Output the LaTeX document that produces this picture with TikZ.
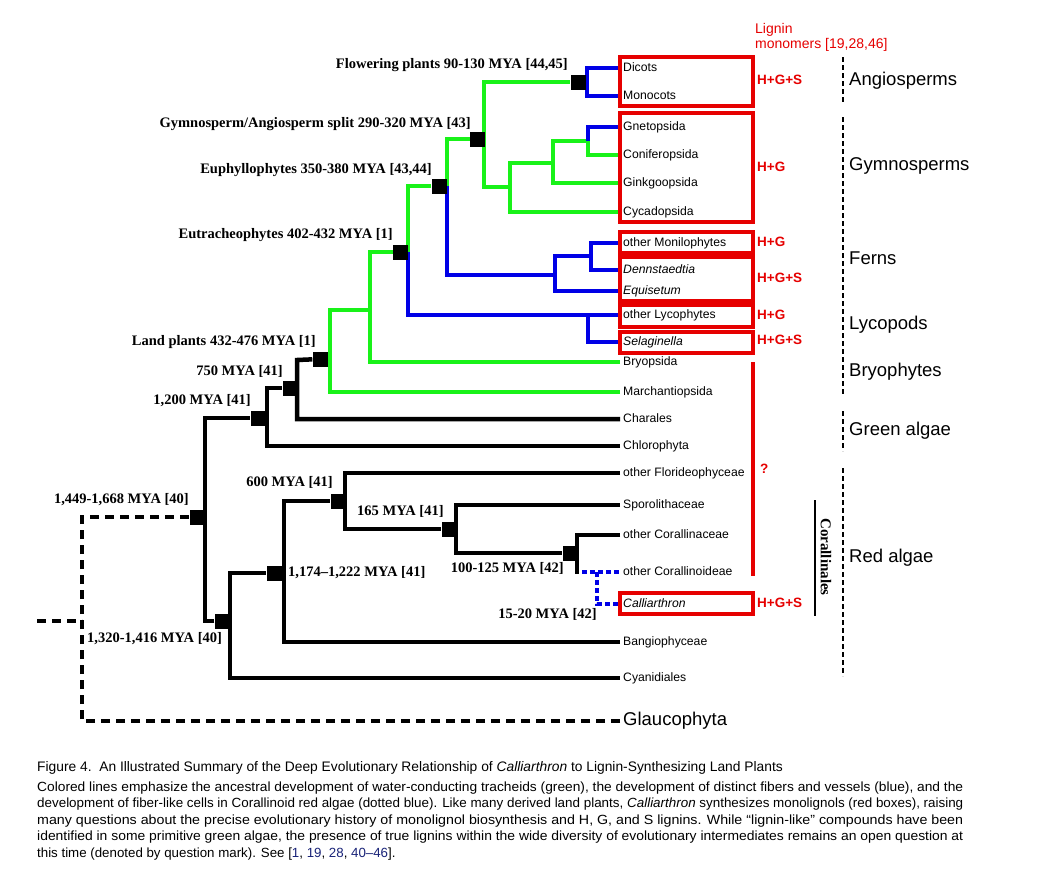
\documentclass[tikz,border=0pt]{standalone}
\usepackage{fontspec}
\usepackage{graphicx}
\setmainfont{Liberation Serif}
\newfontfamily\lsans[Ligatures=TeX]{Liberation Sans}
\usetikzlibrary{backgrounds}
\definecolor{lgreen}{RGB}{25,242,25}
\definecolor{lblue}{RGB}{0,0,230}
\definecolor{lred}{RGB}{230,0,0}
\definecolor{refblue}{RGB}{25,35,120}
\begin{document}
\begin{tikzpicture}[x=1pt,y=-1pt,
  tree/.style={line width=4.5pt},
  bk/.style={tree,black},
  gn/.style={tree,lgreen},
  bu/.style={tree,lblue},
  bdot/.style={line width=4pt,lblue,dash pattern=on 5pt off 3pt},
  bdash/.style={line width=4pt,black,dash pattern=on 9pt off 6pt},
  gdash/.style={line width=2.5pt,black,dash pattern=on 5pt off 3pt},
  sq/.style={fill=black,minimum size=15pt,inner sep=0pt},
  age/.style={font=\fontsize{14.5}{16}\selectfont\bfseries,inner sep=0pt,text height=10pt,text depth=3pt},
  leaf/.style={font=\lsans\fontsize{12.2}{14}\selectfont,anchor=west,inner xsep=3pt,inner ysep=0pt,text height=9pt,text depth=3pt},
  grp/.style={font=\lsans\fontsize{18.5}{20}\selectfont,anchor=west,inner sep=0pt,text height=13pt,text depth=4pt},
  rl/.style={font=\lsans\bfseries\fontsize{13.5}{15}\selectfont,text=lred,anchor=west,inner sep=0pt,text height=10pt,text depth=3pt},
  rbox/.style={draw=lred,line width=4pt},
  captxt/.style={font=\lsans\fontsize{13.3}{15}\selectfont,anchor=base west,inner sep=0pt}
]
\useasboundingbox (0,0) rectangle (1049,895);

% ---------- leaves ----------
\node[leaf] (dic)  at (620,68)  {Dicots};
\node[leaf] (mon)  at (620,96)  {Monocots};
\node[leaf] (gne)  at (620,127) {Gnetopsida};
\node[leaf] (con)  at (620,155) {Coniferopsida};
\node[leaf] (gin)  at (620,183) {Ginkgoopsida};
\node[leaf] (cyc)  at (620,212) {Cycadopsida};
\node[leaf] (oml)  at (620,243) {other Monilophytes};
\node[leaf] (den)  at (620,270) {\itshape Dennstaedtia};
\node[leaf] (equ)  at (620,291) {\itshape Equisetum};
\node[leaf] (oly)  at (620,315) {other Lycophytes};
\node[leaf] (sel)  at (620,342) {\itshape Selaginella};
\node[leaf] (bry)  at (620,362) {Bryopsida};
\node[leaf] (mar)  at (620,392) {Marchantiopsida};
\node[leaf] (cha)  at (620,419) {Charales};
\node[leaf] (chl)  at (620,446) {Chlorophyta};
\node[leaf] (flo)  at (620,473) {other Florideophyceae};
\node[leaf] (spo)  at (620,505) {Sporolithaceae};
\node[leaf] (ocr)  at (620,535) {other Corallinaceae};
\node[leaf] (oco)  at (620,572) {other Corallinoideae};
\node[leaf] (cal)  at (620,604) {\itshape Calliarthron};
\node[leaf] (ban)  at (620,642) {Bangiophyceae};
\node[leaf] (cya)  at (620,678) {Cyanidiales};
\node[grp,inner xsep=3pt] (gla) at (620,721) {Glaucophyta};

% ---------- internal nodes ----------
\node[sq] (A)    at (578,82)  {};
\node[sq] (G)    at (477,139) {};
\node[sq] (E)    at (439,186) {};
\node[sq] (U)    at (400,252) {};
\node[sq] (L)    at (320,359) {};
\node[sq] (N7)   at (290,388) {};
\node[sq] (N12)  at (258,418) {};
\node[sq] (N14)  at (197,517) {};
\node[sq] (N13)  at (222,621) {};
\node[sq] (N11)  at (274,573) {};
\node[sq] (N6)   at (338,501) {};
\node[sq] (N165) at (449,529) {};
\node[sq] (N100) at (570,553) {};
\coordinate (stub) at (37,621);

\begin{pgfonlayer}{background}
\fill[white] (0,0) rectangle (1049,895);
% green
\draw[gn] (cyc.west) -| (510,163) -| (553,141) -| (588,155) -- (con.west);
\draw[gn] (553,163) |- (gin.west);
\draw[gn] (510,187) -| (484,82) -- (A);
\draw[gn] (447,186) |- (484,139);
\draw[gn] (bry.west) -| (370,252) -| (408,186) -- (E);
\draw[gn] (mar.west) -| (330,310) -- (370,310);
% blue
\draw[bu] (dic.west) -| (587,82) |- (mon.west);
\draw[bu] (588,141) |- (gne.west);
\draw[bu] (447,186) |- (555,275);
\draw[bu] (equ.west) -| (555,256) -- (591,256);
\draw[bu] (oml.west) -| (591,270) -- (den.west);
\draw[bu] (408,252) |- (oly.west);
\draw[bu] (sel.west) -| (588,315);
% black
\draw[bk] (cha.west) -| (297,360) -- (L);
\draw[bk] (chl.west) -| (267,388) -- (N7);
\draw[bk] (N13) -| (205,418) -- (N12);
\draw[bk] (cya.west) -| (230,573) -- (N11);
\draw[bk] (ban.west) -| (284,501) -- (N6);
\draw[bk] (flo.west) -| (345,529) -- (N165);
\draw[bk] (spo.west) -| (456,553) -- (N100);
\draw[bk] (ocr.west) -| (577,574);
% dotted blue
\draw[bdot] (582,572) -- (oco.west);
\draw[bdot] (597,572) |- (cal.west);
% dashed black
\draw[bdash] (gla.west) -| (82,517) -- (N14);
\draw[bdash] (stub) -- (82,621);
\end{pgfonlayer}

% ---------- age labels ----------
\node[age,anchor=east] (t1)  at (568,65)  {Flowering plants 90-130 MYA [44,45]};
\node[age,anchor=east] (t2)  at (471,124) {Gymnosperm/Angiosperm split 290-320 MYA [43]};
\node[age,anchor=east] (t3)  at (432,170) {Euphyllophytes 350-380 MYA [43,44]};
\node[age,anchor=east] (t4)  at (393,235) {Eutracheophytes 402-432 MYA [1]};
\node[age,anchor=east] (t5)  at (316,342) {Land plants 432-476 MYA [1]};
\node[age,anchor=east] (t6)  at (283,372) {750 MYA [41]};
\node[age,anchor=east] (t7)  at (251,401) {1,200 MYA [41]};
\node[age,anchor=east] (t8)  at (189,500) {1,449-1,668 MYA [40]};
\node[age,anchor=east] (t9)  at (333,483) {600 MYA [41]};
\node[age,anchor=west] (t10) at (357,512) {165 MYA [41]};
\node[age,anchor=west] (t11) at (288,573) {1,174\textendash 1,222 MYA [41]};
\node[age,anchor=west] (t12) at (87,639)  {1,320-1,416 MYA [40]};
\node[age,anchor=east] (t13) at (564,569) {100-125 MYA [42]};
\node[age,anchor=east] (t14) at (597,615) {15-20 MYA [42]};

% ---------- red boxes ----------
\draw[rbox] (620,57) rectangle (753,106);
\draw[rbox] (620,113) rectangle (753,222);
\draw[rbox] (620,232) rectangle (753,253);
\draw[rbox] (620,257) rectangle (753,301);
\draw[rbox] (620,305) rectangle (753,327);
\draw[rbox] (620,332) rectangle (753,353);
\draw[rbox] (620,593) rectangle (753,614);
\draw[lred,line width=4pt] (753,362) -- (753,576);

\node[rl] (r1) at (757,81)  {H+G+S};
\node[rl] (r2) at (757,168) {H+G};
\node[rl] (r3) at (757,243) {H+G};
\node[rl] (r4) at (757,279) {H+G+S};
\node[rl] (r5) at (757,316) {H+G};
\node[rl] (r6) at (757,341) {H+G+S};
\node[rl] (r7) at (757,604) {H+G+S};
\node[rl] (rq) at (760,470) {?};

\node[font=\lsans\fontsize{14}{15}\selectfont,text=lred,anchor=west,inner sep=0pt] (lig1) at (755,30) {Lignin};
\node[font=\lsans\fontsize{14}{15}\selectfont,text=lred,anchor=west,inner sep=0pt] (lig2) at (755,45) {monomers [19,28,46]};

% ---------- groups ----------
\draw[gdash] (843,57) -- (843,103);
\draw[gdash] (843,117) -- (843,395);
\draw[gdash] (843,411) -- (843,451);
\draw[gdash] (843,468) -- (843,676);
\node[grp] (g1) at (849,81)  {Angiosperms};
\node[grp] (g2) at (849,166) {Gymnosperms};
\node[grp] (g3) at (849,260) {Ferns};
\node[grp] (g4) at (849,325) {Lycopods};
\node[grp] (g5) at (849,372) {Bryophytes};
\node[grp] (g6) at (849,431) {Green algae};
\node[grp] (g7) at (849,558) {Red algae};

\draw[black,line width=2pt] (815,500) -- (815,616);
\node[font=\fontsize{15}{16}\selectfont\bfseries,rotate=-90,inner sep=0pt] (cor) at (826,557) {Corallinales};

% ---------- caption ----------
\node[captxt,font=\lsans\fontsize{13.8}{15}\selectfont] (c0) at (37,771) {Figure 4.\ \ An Illustrated Summary of the Deep Evolutionary Relationship of \textit{Calliarthron} to Lignin-Synthesizing Land Plants};
\node[captxt] (c1) at (37,791) {\resizebox{926pt}{\height}{Colored lines emphasize the ancestral development of water-conducting tracheids (green), the development of distinct fibers and vessels (blue), and the}};
\node[captxt] (c2) at (37,807.5) {\resizebox{926pt}{\height}{development of fiber-like cells in Corallinoid red algae (dotted blue). Like many derived land plants, \textit{Calliarthron} synthesizes monolignols (red boxes), raising}};
\node[captxt] (c3) at (37,824) {\resizebox{926pt}{\height}{many questions about the precise evolutionary history of monolignol biosynthesis and H, G, and S lignins. While “lignin-like” compounds have been}};
\node[captxt] (c4) at (37,840.5) {\resizebox{926pt}{\height}{identified in some primitive green algae, the presence of true lignins within the wide diversity of evolutionary intermediates remains an open question at}};
\node[captxt] (c5) at (37,857) {this time (denoted by question mark). See [\textcolor{refblue}{1}, \textcolor{refblue}{19}, \textcolor{refblue}{28}, \textcolor{refblue}{40\textendash 46}].};
\end{tikzpicture}
\end{document}
